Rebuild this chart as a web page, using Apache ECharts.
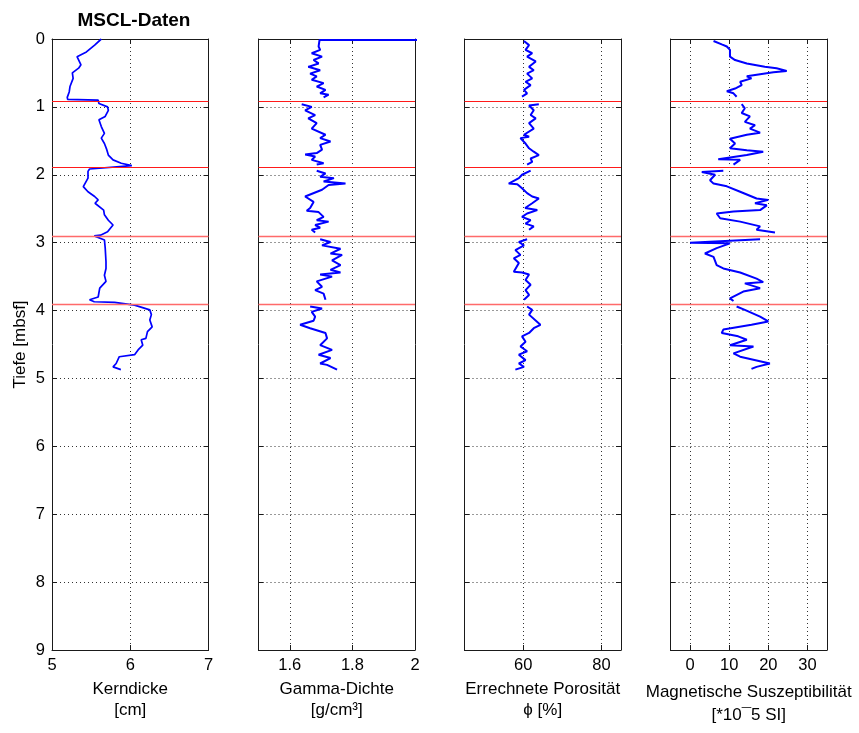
<!DOCTYPE html>
<html>
<head>
<meta charset="utf-8">
<script src="https://cdn.jsdelivr.net/npm/echarts@6/dist/echarts.min.js"></script>
<style>
  html, body { margin: 0; padding: 0; background: #fff; }
  #chart { width: 859px; height: 733px; }
</style>
</head>
<body>
<div id="chart"></div>
<script>
// MSCL core log: four tracks against depth below sea floor.
// Every sample is [value, depth in m].

const depthTicks = [0, 1, 2, 3, 4, 5, 6, 7, 8, 9];
const sectionTops = [0.92, 1.89, 2.90, 3.90];   // core section boundaries (m)
const sectionColors = ['#ff1a1a', '#ff1a1a', '#ff6a6a', '#ff6a6a'];

const kernTicks = [5, 6, 7];
const gammaTicks = [1.6, 1.8, 2.0];
const porTicks = [60, 80];
const magTicks = [0, 10, 20, 30];

// Kerndicke [cm] – one continuous trace
const kernDicke = [
  [5.63, 0.00], [5.545, 0.09], [5.44, 0.19], [5.32, 0.26], [5.37, 0.38], [5.34, 0.43],
  [5.26, 0.50], [5.27, 0.58], [5.23, 0.70], [5.22, 0.78], [5.195, 0.86], [5.20, 0.89],
  [5.59, 0.90], [5.60, 0.95], [5.71, 1.00], [5.72, 1.05], [5.68, 1.14], [5.60, 1.19],
  [5.63, 1.29], [5.67, 1.39], [5.63, 1.46], [5.67, 1.54], [5.70, 1.63], [5.72, 1.71],
  [5.78, 1.78], [5.885, 1.83], [6.02, 1.865], [5.48, 1.915], [5.46, 1.95], [5.46, 2.05],
  [5.40, 2.175], [5.46, 2.25], [5.545, 2.32], [5.59, 2.37], [5.55, 2.42], [5.66, 2.52],
  [5.67, 2.59], [5.72, 2.67], [5.78, 2.74], [5.71, 2.84], [5.62, 2.89], [5.54, 2.90],
  [5.67, 2.96], [5.68, 3.08], [5.69, 3.28], [5.69, 3.38], [5.67, 3.48], [5.69, 3.57],
  [5.61, 3.67], [5.59, 3.80], [5.48, 3.84], [5.54, 3.87], [5.80, 3.88], [6.055, 3.92],
  [6.25, 3.99], [6.27, 4.06], [6.25, 4.14], [6.28, 4.24], [6.22, 4.31], [6.20, 4.41],
  [6.14, 4.43], [6.16, 4.51], [6.10, 4.58], [6.055, 4.65], [5.86, 4.68], [5.82, 4.78],
  [5.78, 4.83], [5.88, 4.87]
];

// Gamma-Dichte [g/cm³], one array per core section
const gamma1 = [
  [2.50, 0.01], [1.695, 0.015], [1.697, 0.04], [1.692, 0.11], [1.697, 0.16], [1.670, 0.21],
  [1.703, 0.26], [1.676, 0.31], [1.692, 0.36], [1.659, 0.41], [1.697, 0.46], [1.665, 0.51],
  [1.686, 0.55], [1.670, 0.60], [1.708, 0.65], [1.686, 0.70], [1.714, 0.75], [1.697, 0.80],
  [1.724, 0.82], [1.708, 0.86]
];
const gamma2 = [
  [1.638, 0.96], [1.670, 1.00], [1.649, 1.05], [1.681, 1.12], [1.659, 1.17], [1.686, 1.24],
  [1.670, 1.32], [1.714, 1.41], [1.697, 1.46], [1.730, 1.51], [1.697, 1.56], [1.703, 1.63],
  [1.686, 1.68], [1.649, 1.70], [1.681, 1.73], [1.670, 1.78], [1.708, 1.83], [1.686, 1.85]
];
const gamma3 = [
  [1.686, 1.94], [1.714, 1.98], [1.697, 2.03], [1.741, 2.05], [1.708, 2.10], [1.778, 2.13],
  [1.724, 2.15], [1.703, 2.22], [1.649, 2.32], [1.676, 2.40], [1.665, 2.49], [1.654, 2.53],
  [1.692, 2.55], [1.708, 2.62], [1.686, 2.67], [1.724, 2.69], [1.681, 2.74], [1.697, 2.78],
  [1.670, 2.81], [1.681, 2.85]
];
const gamma4 = [
  [1.697, 2.95], [1.730, 2.99], [1.703, 3.04], [1.762, 3.09], [1.730, 3.16], [1.767, 3.18],
  [1.735, 3.26], [1.762, 3.33], [1.730, 3.40], [1.762, 3.44], [1.697, 3.47], [1.735, 3.50],
  [1.686, 3.57], [1.703, 3.65], [1.681, 3.70], [1.708, 3.75], [1.714, 3.84]
];
const gamma5 = [
  [1.665, 3.94], [1.703, 3.97], [1.670, 4.02], [1.681, 4.09], [1.676, 4.15], [1.633, 4.21],
  [1.665, 4.26], [1.714, 4.33], [1.719, 4.41], [1.697, 4.51], [1.735, 4.58], [1.692, 4.65],
  [1.730, 4.70], [1.697, 4.78], [1.719, 4.80], [1.751, 4.87]
];

// Errechnete Porosität [%]
const por1 = [
  [60.2, 0.03], [61.5, 0.09], [60.6, 0.16], [62.3, 0.21], [61.0, 0.26], [63.2, 0.33],
  [61.5, 0.41], [62.7, 0.46], [61.0, 0.51], [62.3, 0.58], [60.6, 0.63], [61.9, 0.68],
  [60.2, 0.75], [61.0, 0.80], [59.7, 0.85]
];
const por2 = [
  [64.0, 0.96], [61.5, 0.98], [62.7, 1.05], [61.9, 1.12], [63.2, 1.17], [61.5, 1.24],
  [62.7, 1.32], [60.2, 1.41], [61.5, 1.44], [59.3, 1.46], [60.6, 1.54], [61.5, 1.61],
  [62.7, 1.66], [64.0, 1.71], [61.9, 1.76], [62.3, 1.81], [61.0, 1.85]
];
const por3 = [
  [61.9, 1.94], [59.7, 2.00], [58.9, 2.05], [56.3, 2.13], [58.5, 2.14], [59.7, 2.20],
  [61.0, 2.27], [62.3, 2.32], [64.0, 2.35], [62.3, 2.42], [60.5, 2.49], [63.6, 2.52],
  [61.0, 2.57], [59.7, 2.62], [61.9, 2.67], [60.6, 2.72], [62.7, 2.76], [61.5, 2.81]
];
const por4 = [
  [61.0, 2.95], [58.9, 2.99], [60.2, 3.04], [58.0, 3.11], [59.3, 3.18], [57.6, 3.23],
  [58.9, 3.30], [57.6, 3.43], [59.7, 3.44], [61.5, 3.47], [60.6, 3.55], [61.9, 3.62],
  [60.6, 3.70], [61.5, 3.77], [60.2, 3.84]
];
const por5 = [
  [61.0, 3.94], [62.3, 3.99], [61.5, 4.06], [64.4, 4.21], [62.7, 4.26], [61.5, 4.33],
  [59.7, 4.38], [60.6, 4.46], [59.3, 4.53], [61.0, 4.60], [58.9, 4.65], [60.6, 4.73],
  [58.9, 4.78], [60.2, 4.83], [58.0, 4.87]
];

// Magnetische Suszeptibilität [*10^-5 SI]
const mag1 = [
  [6.0, 0.03], [8.1, 0.08], [9.4, 0.11], [10.2, 0.16], [10.2, 0.26], [11.5, 0.31],
  [14.5, 0.36], [19.1, 0.41], [22.1, 0.43], [24.7, 0.47], [21.3, 0.49], [17.9, 0.52],
  [14.5, 0.55], [15.7, 0.58], [12.8, 0.63], [13.2, 0.68], [11.5, 0.73], [9.4, 0.77],
  [11.1, 0.80], [11.9, 0.85]
];
const mag2 = [
  [13.2, 0.96], [14.0, 1.02], [13.2, 1.09], [15.3, 1.14], [14.0, 1.22], [16.6, 1.27],
  [15.3, 1.32], [17.9, 1.38], [14.5, 1.41], [10.2, 1.47], [11.5, 1.54], [10.2, 1.61],
  [14.5, 1.64], [18.7, 1.66], [14.5, 1.71], [7.2, 1.77], [12.8, 1.78], [11.1, 1.85]
];
const mag3 = [
  [8.5, 1.94], [3.0, 1.96], [6.4, 2.00], [5.1, 2.08], [6.0, 2.13], [9.4, 2.17],
  [12.8, 2.25], [17.0, 2.35], [20.0, 2.37], [16.6, 2.42], [19.6, 2.45], [17.9, 2.52],
  [11.1, 2.54], [6.8, 2.57], [7.7, 2.64], [12.8, 2.69], [17.9, 2.76], [17.0, 2.81],
  [21.7, 2.85]
];
const mag4 = [
  [17.9, 2.95], [0.0, 3.00], [10.2, 3.01], [6.8, 3.08], [3.8, 3.16], [6.0, 3.21],
  [6.8, 3.33], [8.5, 3.38], [12.8, 3.44], [17.0, 3.53], [18.7, 3.58], [14.0, 3.60],
  [17.9, 3.67], [13.6, 3.72], [10.2, 3.82], [11.1, 3.86]
];
const mag5 = [
  [11.9, 3.94], [14.0, 3.99], [17.9, 4.09], [20.0, 4.16], [15.7, 4.21], [8.5, 4.28],
  [8.1, 4.33], [12.3, 4.38], [14.5, 4.43], [10.2, 4.51], [16.2, 4.53], [11.1, 4.63],
  [12.8, 4.68], [20.4, 4.78], [17.0, 4.83], [15.7, 4.86]
];

const FONT = '"Liberation Sans", Arial, Helvetica, sans-serif';
const TICK_TEXT = { fontFamily: FONT, fontSize: 16.5, color: '#000' };
const NAME_TEXT = { fontFamily: FONT, fontSize: 17, color: '#000' };

const panels = [
  { left: 52, min: 5, max: 7, ticks: kernTicks, name: 'Kerndicke\n[cm]', traces: [kernDicke] },
  { left: 258.5, min: 1.5, max: 2, ticks: gammaTicks, name: 'Gamma-Dichte\n[g/cm³]',
    traces: [gamma1, gamma2, gamma3, gamma4, gamma5] },
  { left: 464.5, min: 45, max: 85, ticks: porTicks, name: 'Errechnete Porosität\nϕ [%]',
    traces: [por1, por2, por3, por4, por5] },
  { left: 670.5, min: -5, max: 35, ticks: magTicks, name: 'Magnetische Suszeptibilität\n[*10¯5 SI]',
    traces: [mag1, mag2, mag3, mag4, mag5], nameGap: 31, lineHeight: 23 }
];

const PLOT_TOP = 39, PLOT_H = 611, PLOT_W = 156.5;
const frame = { show: true, onZero: false, lineStyle: { color: '#1a1a1a', width: 1 } };
const dotted = { show: true, lineStyle: { color: '#333', width: 1, type: [1, 3] } };

const grid = [], xAxis = [], yAxis = [], series = [];

panels.forEach((p, i) => {
  grid.push({ left: p.left, top: PLOT_TOP, width: PLOT_W, height: PLOT_H,
              outerBoundsMode: 'none', containLabel: false });

  xAxis.push({
    type: 'value', gridIndex: i, position: 'bottom', min: p.min, max: p.max,
    axisLine: frame,
    axisTick: { inside: true, length: 5, customValues: p.ticks, lineStyle: { color: '#1a1a1a' } },
    axisLabel: Object.assign({ margin: 7, customValues: p.ticks }, TICK_TEXT),
    splitLine: dotted,
    name: p.name, nameLocation: 'middle', nameGap: p.nameGap || 29,
    nameTextStyle: Object.assign({ lineHeight: p.lineHeight || 21 }, NAME_TEXT)
  });
  xAxis.push({
    type: 'value', gridIndex: i, position: 'top', min: p.min, max: p.max,
    axisLine: frame,
    axisTick: { inside: true, length: 5, customValues: p.ticks, lineStyle: { color: '#1a1a1a' } },
    axisLabel: { show: false }, splitLine: { show: false }
  });

  yAxis.push({
    type: 'value', gridIndex: i, position: 'left', inverse: true, min: 0, max: 9, interval: 1,
    axisLine: frame,
    axisTick: { inside: true, length: 5, lineStyle: { color: '#1a1a1a' } },
    axisLabel: Object.assign({ show: i === 0, margin: 7 }, TICK_TEXT),
    splitLine: dotted,
    name: i === 0 ? 'Tiefe [mbsf]' : '', nameLocation: 'middle', nameGap: 23,
    nameTextStyle: NAME_TEXT
  });
  yAxis.push({
    type: 'value', gridIndex: i, position: 'right', inverse: true, min: 0, max: 9, interval: 1,
    axisLine: frame,
    axisTick: { inside: true, length: 5, lineStyle: { color: '#1a1a1a' } },
    axisLabel: { show: false }, splitLine: { show: false }
  });

  p.traces.forEach((trace, k) => {
    const s = {
      type: 'line', xAxisIndex: 2 * i, yAxisIndex: 2 * i, data: trace,
      symbol: 'none', clip: true, animation: false, z: 3,
      lineStyle: { color: '#0000ff', width: i === 0 ? 1.7 : 2 }
    };
    if (k === 0) {
      s.markLine = {
        silent: true, symbol: 'none', animation: false,
        label: { show: false },
        data: sectionTops.map((d, j) => ({
          yAxis: d, lineStyle: { color: sectionColors[j], width: j < 2 ? 1 : 1.4, type: 'solid' }
        }))
      };
    }
    series.push(s);
  });
});

const chart = echarts.init(document.getElementById('chart'), null, { renderer: 'canvas' });
chart.setOption({
  animation: false,
  backgroundColor: '#fff',
  title: {
    text: 'MSCL-Daten', left: 129, top: 6, textAlign: 'center',
    textStyle: { fontFamily: FONT, fontSize: 19, fontWeight: 'bold', color: '#000' }
  },
  grid, xAxis, yAxis, series
});
</script>
</body>
</html>
